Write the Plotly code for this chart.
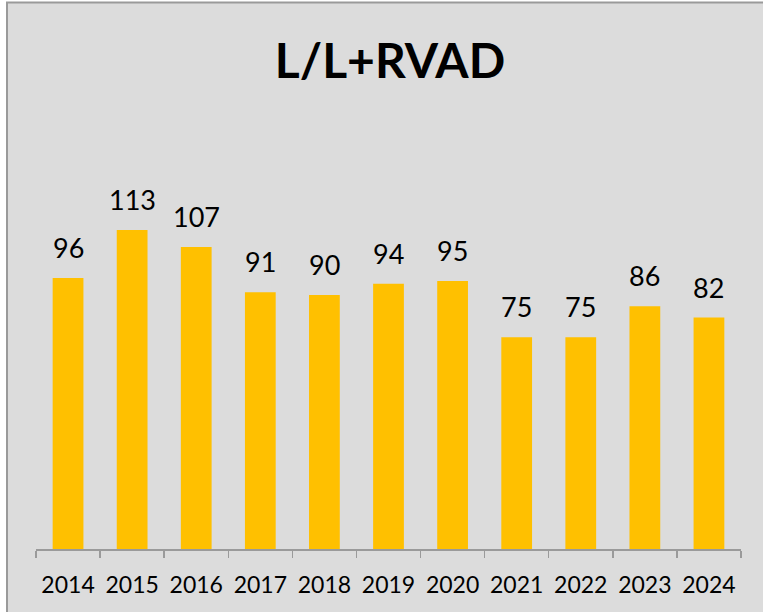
import plotly.graph_objects as go

years = ["2014", "2015", "2016", "2017", "2018", "2019", "2020", "2021", "2022", "2023", "2024"]
values = [96, 113, 107, 91, 90, 94, 95, 75, 75, 86, 82]

W, H = 763, 612
L, R, T, B = 36, 22, 120, 63
pw, ph = W - L - R, H - T - B

def px_x(p):
    return (p - L) / pw

def px_y(p):
    return (H - B - p) / ph

fig = go.Figure()
fig.add_trace(go.Bar(x=years, y=values, marker=dict(color="#FFC000", line=dict(width=0)),
                     hoverinfo="skip"))

for i, v in enumerate(values):
    fig.add_annotation(x=i, y=v, text=str(v), showarrow=False, yanchor="bottom",
                       yshift=12, font=dict(family="Lato", size=27, color="#000000"))

fig.add_shape(type="rect", xref="paper", yref="paper",
              x0=px_x(7), x1=px_x(800), y0=px_y(650), y1=px_y(2.5),
              fillcolor="#DCDCDC", line=dict(color="#9a9a9a", width=2), layer="below")

fig.update_layout(
    width=W, height=H,
    margin=dict(l=L, r=R, t=T, b=B, autoexpand=False),
    paper_bgcolor="#FFFFFF", plot_bgcolor="rgba(0,0,0,0)",
    title=dict(text="<b>L/L+RVAD</b>", x=390 / W, xanchor="center",
               y=1 - 61 / H, yanchor="middle", yref="container",
               font=dict(family="Lato", size=48, color="#000000")),
    bargap=0.52,
    showlegend=False,
    xaxis=dict(type="category", range=[-0.5, len(years) - 0.5], showline=True,
               linecolor="#9a9a9a", linewidth=1.5, ticks="outside",
               tickson="boundaries", ticklen=7, tickcolor="#9a9a9a", tickwidth=1.5,
               tickangle=0, automargin=False,
               tickfont=dict(family="Lato", size=23, color="#000000"),
               ticklabelstandoff=15, showgrid=False, fixedrange=True),
    yaxis=dict(range=[0, 152], visible=False, showgrid=False, fixedrange=True, automargin=False),
)

fig.write_html("out.html", config={"displayModeBar": False, "staticPlot": True},
               post_script="document.body.style.margin='0';document.body.style.overflow='hidden';")
